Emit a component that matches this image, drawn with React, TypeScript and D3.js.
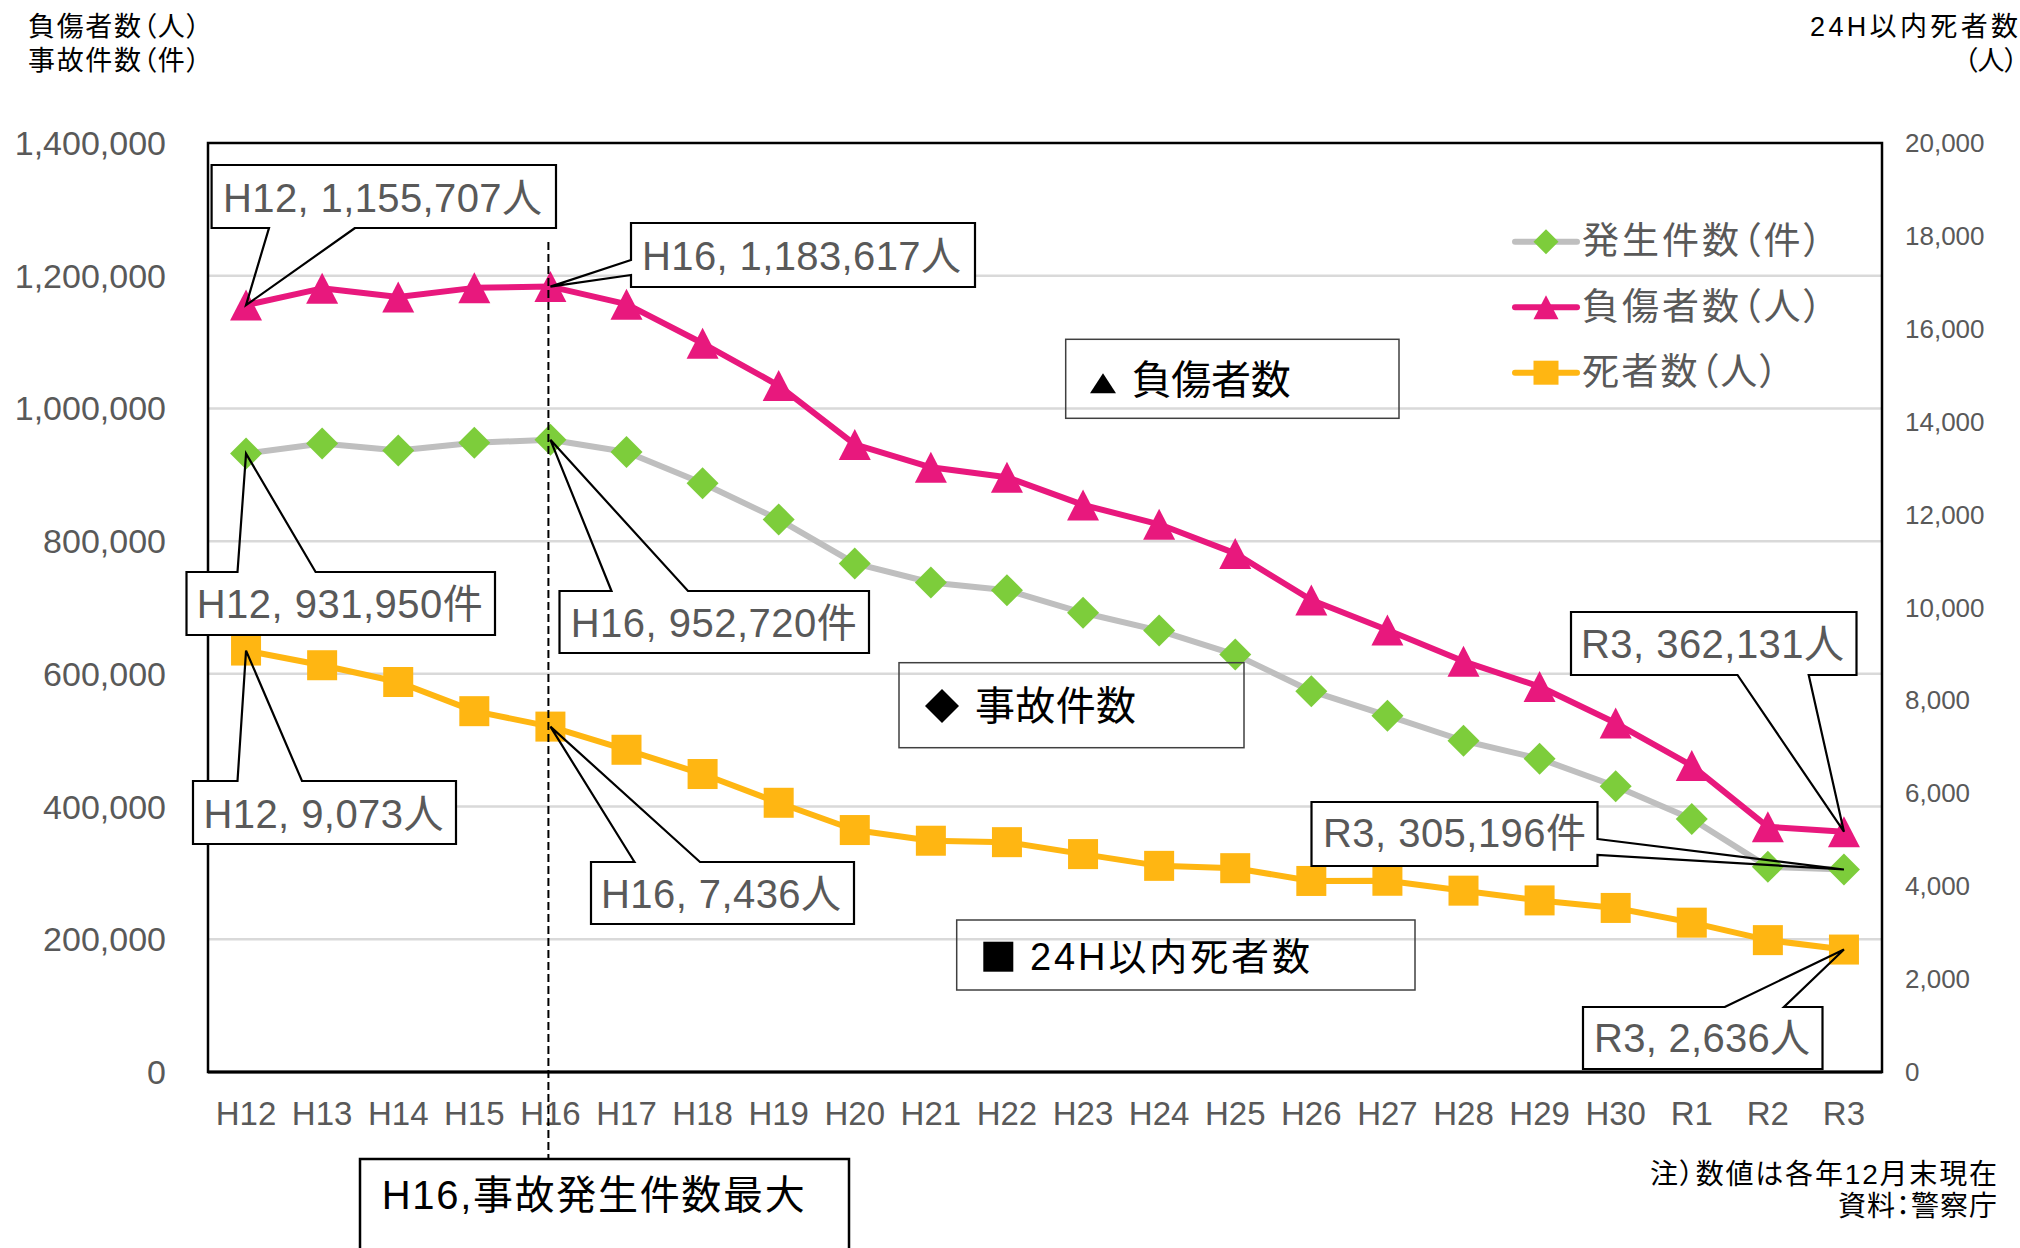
import React, { useEffect } from "react";
import * as d3 from "d3";

const categories = ["H12","H13","H14","H15","H16","H17","H18","H19","H20","H21","H22","H23","H24","H25","H26","H27","H28","H29","H30","R1","R2","R3"];
const accidents = [931950, 947253, 936721, 948281, 952720, 934346, 887267, 832704, 766394, 737628, 725924, 692084, 665157, 629033, 573842, 536899, 499201, 472165, 430601, 381237, 309178, 305196];
const injured = [1155707, 1180955, 1167855, 1181681, 1183617, 1157113, 1098199, 1034445, 945703, 911215, 896297, 854613, 825396, 781494, 711374, 666023, 618853, 580850, 525846, 461775, 369476, 362131];
const deaths = [9073, 8757, 8396, 7768, 7436, 6937, 6415, 5796, 5209, 4979, 4948, 4691, 4438, 4388, 4113, 4117, 3904, 3694, 3532, 3215, 2839, 2636];
const leftTicks = [0, 200000, 400000, 600000, 800000, 1000000, 1200000, 1400000];
const rightTicks = [0, 2000, 4000, 6000, 8000, 10000, 12000, 14000, 16000, 18000, 20000];
const legendLabels = ["発生件数（件）", "負傷者数（人）", "死者数（人）"];

const FONT = "'Liberation Sans', Arial, 'Noto Sans CJK JP', sans-serif";
const PINK = "#E8187D";
const GREEN = "#7DCD3B";
const GRAYLINE = "#BFBFBF";
const ORANGE = "#FFB612";
const TEXTGRAY = "#595959";
const PALT = { fontFeatureSettings: "'palt'" } as React.CSSProperties;

const W = 2020, H = 1248;
const PL = 208, PR = 1882, PT = 143, PB = 1072;

type SeriesKey = "acc" | "inj" | "dea";

const callouts: { cat: string; s: SeriesKey; box: number[]; side: string; base: number[]; tx: number; tw: number; by: number }[] = [
  { cat: "H12", s: "inj", box: [211.6, 165, 556, 228], side: "bottom", base: [269, 355], tx: 223, tw: 319, by: 212 },
  { cat: "H16", s: "inj", box: [631, 223, 975, 287], side: "left", base: [260, 275], tx: 642, tw: 319, by: 270 },
  { cat: "H12", s: "acc", box: [186.5, 572, 495, 635], side: "top", base: [237.5, 315.6], tx: 196.7, tw: 286, by: 618 },
  { cat: "H16", s: "acc", box: [559.5, 591, 869, 653], side: "top", base: [611.5, 688], tx: 570.7, tw: 286, by: 637 },
  { cat: "H12", s: "dea", box: [193, 781, 456, 844], side: "top", base: [237.5, 302], tx: 203.4, tw: 240, by: 828 },
  { cat: "H16", s: "dea", box: [591, 862, 854, 924], side: "top", base: [634.5, 700], tx: 601, tw: 240, by: 908 },
  { cat: "R3", s: "inj", box: [1571, 612, 1856.5, 675], side: "bottom", base: [1737.5, 1808.7], tx: 1581, tw: 263, by: 658 },
  { cat: "R3", s: "acc", box: [1311.5, 802, 1597.5, 866], side: "right", base: [839, 855], tx: 1323, tw: 263, by: 847 },
  { cat: "R3", s: "dea", box: [1583, 1007, 1822.5, 1069], side: "top", base: [1724.7, 1784], tx: 1594, tw: 216, by: 1052 },
];

function calloutPath(box: number[], side: string, base: number[], tip: [number, number]) {
  const [x0, y0, x1, y1] = box;
  const [a, b] = base;
  const [tx, ty] = tip;
  if (side === "top") return `M${a},${y0}L${tx},${ty}L${b},${y0}L${x1},${y0}L${x1},${y1}L${x0},${y1}L${x0},${y0}Z`;
  if (side === "bottom") return `M${b},${y1}L${tx},${ty}L${a},${y1}L${x0},${y1}L${x0},${y0}L${x1},${y0}L${x1},${y1}Z`;
  if (side === "left") return `M${x0},${b}L${tx},${ty}L${x0},${a}L${x0},${y0}L${x1},${y0}L${x1},${y1}L${x0},${y1}Z`;
  return `M${x1},${a}L${tx},${ty}L${x1},${b}L${x1},${y1}L${x0},${y1}L${x0},${y0}L${x1},${y0}Z`;
}

export default function App() {
  useEffect(() => {
    document.body.style.margin = "0";
  }, []);

  const x = d3.scaleBand<string>().domain(categories).range([PL, PR]).padding(0);
  const cx = (c: string) => (x(c) as number) + x.bandwidth() / 2;
  const yL = d3.scaleLinear().domain([0, 1400000]).range([PB, PT]);
  const yR = d3.scaleLinear().domain([0, 20000]).range([PB, PT]);
  const fmt = d3.format(",");

  const line = d3.line<[number, number]>().x(d => d[0]).y(d => d[1]);
  const accPts: [number, number][] = categories.map((c, i) => [cx(c), yL(accidents[i])]);
  const injPts: [number, number][] = categories.map((c, i) => [cx(c), yL(injured[i])]);
  const deaPts: [number, number][] = categories.map((c, i) => [cx(c), yR(deaths[i])]);

  const diamond = (px: number, py: number, r: number) => `M${px},${py - r}L${px + r},${py}L${px},${py + r}L${px - r},${py}Z`;
  const tri = (px: number, py: number, w: number, h: number) => `M${px},${py - h / 2}L${px + w / 2},${py + h / 2}L${px - w / 2},${py + h / 2}Z`;

  const valueOf = (s: SeriesKey, i: number) => (s === "acc" ? accidents[i] : s === "inj" ? injured[i] : deaths[i]);
  const yOf = (s: SeriesKey, v: number) => (s === "dea" ? yR(v) : yL(v));
  const unitOf = (s: SeriesKey) => (s === "acc" ? "件" : "人");

  const h16x = cx("H16");

  return (
    <svg width={W} height={H} style={{ position: "absolute", left: 0, top: 0, background: "#fff" }} fontFamily={FONT}>
      <rect x={0} y={0} width={W} height={H} fill="#fff" />
      {/* Axis titles */}
      <text x={28} y={27} dominantBaseline="central" fontSize={27} fill="#000" textLength={172} style={PALT}>負傷者数（人）</text>
      <text x={28} y={61} dominantBaseline="central" fontSize={27} fill="#000" textLength={172} style={PALT}>事故件数（件）</text>
      <text x={2018} y={27} dominantBaseline="central" fontSize={27} fill="#000" textAnchor="end" textLength={208} style={PALT}>24H以内死者数</text>
      <text x={2018} y={61} dominantBaseline="central" fontSize={27} fill="#000" textAnchor="end" style={PALT}>（人）</text>

      {/* gridlines */}
      {leftTicks.filter(t => t > 0 && t < 1400000).map(t => (
        <line key={"g" + t} x1={PL} x2={PR} y1={yL(t)} y2={yL(t)} stroke="#D9D9D9" strokeWidth={2.5} />
      ))}

      {/* left ticks */}
      {leftTicks.map(t => (
        <text key={"l" + t} x={166} y={yL(t)} textAnchor="end" dominantBaseline="central" fontSize={34} fill={TEXTGRAY}>{fmt(t)}</text>
      ))}
      {/* right ticks */}
      {rightTicks.map(t => (
        <text key={"r" + t} x={1905} y={yR(t)} textAnchor="start" dominantBaseline="central" fontSize={26} fill={TEXTGRAY}>{fmt(t)}</text>
      ))}
      {/* x labels */}
      {categories.map(c => (
        <text key={"x" + c} x={cx(c)} y={1125} textAnchor="middle" fontSize={33} fill={TEXTGRAY}>{c}</text>
      ))}

      {/* series: accidents */}
      <path d={line(accPts) as string} fill="none" stroke={GRAYLINE} strokeWidth={6} strokeLinejoin="round" />
      {accPts.map((p, i) => <path key={"d" + i} d={diamond(p[0], p[1], 16)} fill={GREEN} />)}
      {/* injured */}
      <path d={line(injPts) as string} fill="none" stroke={PINK} strokeWidth={6} strokeLinejoin="round" />
      {injPts.map((p, i) => <path key={"t" + i} d={tri(p[0], p[1], 32, 31)} fill={PINK} />)}
      {/* deaths */}
      <path d={line(deaPts) as string} fill="none" stroke={ORANGE} strokeWidth={6} strokeLinejoin="round" />
      {deaPts.map((p, i) => <rect key={"s" + i} x={p[0] - 15} y={p[1] - 15} width={30} height={30} fill={ORANGE} />)}

      {/* plot border */}
      <rect x={PL} y={PT} width={PR - PL} height={PB - PT} fill="none" stroke="#000" strokeWidth={2.5} />
      <line x1={PL} x2={PR} y1={PB} y2={PB} stroke="#000" strokeWidth={3} />

      {/* legend */}
      {legendLabels.map((lab, i) => {
        const ly = [241.7, 307.3, 372.7][i];
        const col = [GRAYLINE, PINK, ORANGE][i];
        const mx = 1546;
        return (
          <g key={"lg" + i}>
            <line x1={1515} x2={1577} y1={ly} y2={ly} stroke={col} strokeWidth={6} strokeLinecap="round" />
            {i === 0 && <path d={diamond(mx, ly, 12.5)} fill={GREEN} />}
            {i === 1 && <path d={tri(mx, ly, 25, 24)} fill={PINK} />}
            {i === 2 && <rect x={mx - 12.5} y={ly - 12} width={25} height={24} fill={ORANGE} />}
            <text x={1582} y={ly} dominantBaseline="central" fontSize={37} fill={TEXTGRAY} textLength={[240, 240, 196][i]} style={PALT}>{lab}</text>
          </g>
        );
      })}

      {/* category boxes */}
      <rect x={1065.7} y={339.3} width={1399 - 1065.7} height={418.3 - 339.3} fill="none" stroke="#404040" strokeWidth={1.5} />
      <path d={tri(1103, 383.3, 26, 20)} fill="#000" />
      <text x={1131.7} y={380} dominantBaseline="central" fontSize={40} fill="#000" textLength={159}>負傷者数</text>

      <rect x={899} y={662.7} width={1244 - 899} height={747.7 - 662.7} fill="none" stroke="#404040" strokeWidth={1.5} />
      <path d={diamond(942, 706, 17)} fill="#000" />
      <text x={975} y={706} dominantBaseline="central" fontSize={40} fill="#000" textLength={161}>事故件数</text>

      <rect x={956.7} y={920} width={1415 - 956.7} height={70} fill="none" stroke="#404040" strokeWidth={1.5} />
      <rect x={983.3} y={941.7} width={30} height={30} fill="#000" />
      <text x={1030} y={956.7} dominantBaseline="central" fontSize={38} fill="#000" textLength={280}>24H以内死者数</text>

      {/* dashed line */}
      <line x1={h16x - 2} x2={h16x - 2} y1={242} y2={1159} stroke="#000" strokeWidth={2} strokeDasharray="8,4" />

      {/* bottom box */}
      <rect x={360} y={1159} width={849 - 360} height={120} fill="#fff" stroke="#000" strokeWidth={2.5} />
      <text x={381.7} y={1195} dominantBaseline="central" fontSize={40} fill="#000" textLength={423}>H16,事故発生件数最大</text>

      {/* callouts */}
      {callouts.map((co, k) => {
        const i = categories.indexOf(co.cat);
        const v = valueOf(co.s, i);
        const tip: [number, number] = [cx(co.cat), yOf(co.s, v)];
        const [x0, y0, x1, y1] = co.box;
        return (
          <g key={"co" + k}>
            <rect x={x0} y={y0} width={x1 - x0} height={y1 - y0} fill="#fff" />
            <path d={calloutPath(co.box, co.side, co.base, tip)} fill="none" stroke="#000" strokeWidth={2.2} strokeLinejoin="miter" />
            <text x={co.tx} y={co.by} fontSize={40} fill={TEXTGRAY} textLength={co.tw}>{`${co.cat}, ${fmt(v)}${unitOf(co.s)}`}</text>
          </g>
        );
      })}

      {/* notes */}
      <text x={1997} y={1174} textAnchor="end" dominantBaseline="central" fontSize={28} fill="#000" textLength={347} style={PALT}>注）数値は各年12月末現在</text>
      <text x={1997} y={1206.5} textAnchor="end" dominantBaseline="central" fontSize={28} fill="#000" textLength={159} style={PALT}>資料：警察庁</text>
    </svg>
  );
}
